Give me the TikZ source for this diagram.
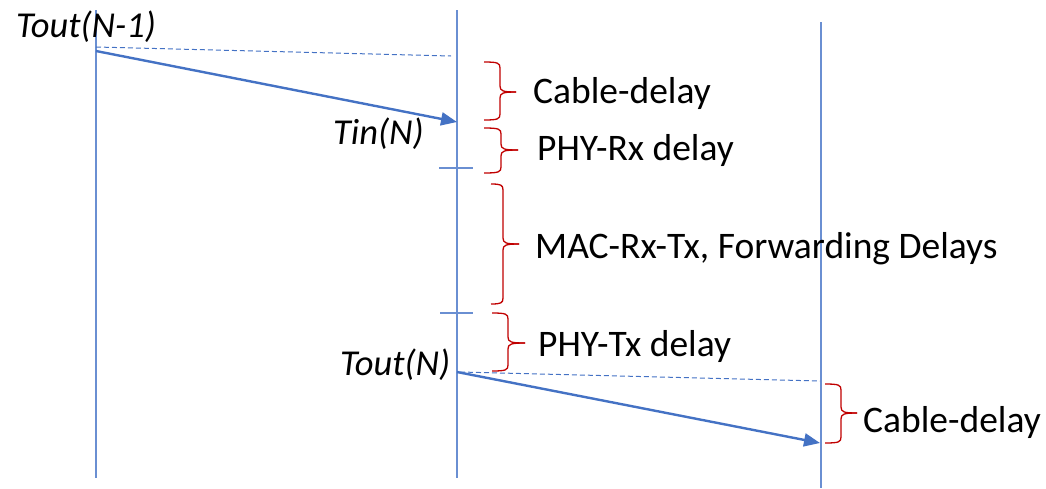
\documentclass[tikz,border=0pt]{standalone}
\usepackage{fontspec}
\setmainfont{Carlito}
\usetikzlibrary{arrows.meta}
\definecolor{lifeblue}{HTML}{6A8FD2}
\definecolor{arrblue}{HTML}{4472C4}
\definecolor{bracered}{HTML}{C00000}
\tikzset{
  life/.style={draw=lifeblue, line width=1.4pt},
  tick/.style={draw=lifeblue, line width=1.2pt},
  msg/.style={draw=arrblue, line width=2.4pt, -{Triangle[length=16pt,width=13pt]}},
  ref/.style={draw=arrblue, line width=1pt, dash pattern=on 5pt off 3pt},
  lbl/.style={font=\fontsize{37.5}{42}\selectfont, anchor=base west, inner sep=0pt},
  ilbl/.style={font=\fontsize{36.5}{42}\selectfont\itshape, anchor=base west, inner sep=0pt},
  brc/.style={draw=bracered, line width=1.3pt},
}
% brace: #1 end x, #2 spine x, #3 tip x, #4 top y, #5 mid y, #6 bottom y
\newcommand{\mybrace}[6]{%
  \draw[brc] (#1,#4) .. controls (#2-2,#4) and (#2,#4+1) .. (#2,#4+6)
    -- (#2,#5-6) .. controls (#2,#5-1) and (#2+3,#5) .. (#3,#5);
  \draw[brc] (#3,#5) .. controls (#2+3,#5) and (#2,#5+1) .. (#2,#5+6)
    -- (#2,#6-6) .. controls (#2,#6-1) and (#2-2,#6) .. (#1,#6);
}
\begin{document}
\begin{tikzpicture}[x=1pt,y=-1pt]
\useasboundingbox (0,0) rectangle (1046,488);
% lifelines
\coordinate (Atop) at (96,10);
\coordinate (Abot) at (96,478);
\coordinate (Btop) at (457,10);
\coordinate (Bbot) at (457,478);
\coordinate (Ctop) at (821,22);
\coordinate (Cbot) at (821,488);
\draw[life] (Atop) -- (Abot);
\draw[life] (Btop) -- (Bbot);
\draw[life] (Ctop) -- (Cbot);
% ticks
\coordinate (t1a) at (439,168); \coordinate (t1b) at (473,168);
\coordinate (t2a) at (440,313); \coordinate (t2b) at (473,313);
\draw[tick] (t1a) -- (t1b);
\draw[tick] (t2a) -- (t2b);
% messages
\coordinate (s1) at (96,51);
\coordinate (r1) at (457,122);
\coordinate (d1a) at (96,47);
\coordinate (d1b) at (451,56);
\draw[ref] (d1a) -- (d1b);
\draw[msg] (s1) -- (r1);
\coordinate (s2) at (457,372);
\coordinate (r2) at (820,443);
\coordinate (d2a) at (460,372);
\coordinate (d2b) at (820,381);
\draw[ref] (d2a) -- (d2b);
\draw[msg] (s2) -- (r2);
% braces
\mybrace{484}{500}{516}{62}{92}{120}
\mybrace{484}{501}{518}{128}{150}{173}
\mybrace{491}{503}{519}{184}{244}{304}
\mybrace{492}{508}{525}{313}{343}{371}
\mybrace{825}{841}{857}{384}{413}{443}
% labels
\node[ilbl] (toutn1) at (16,37) {Tout(N-1)};
\node[ilbl] (tinn) at (333,144) {Tin(N)};
\node[ilbl] (toutn) at (340,375) {Tout(N)};
\node[lbl] (cd1) at (533,103) {Cable-delay};
\node[lbl] (phyrx) at (537,160) {PHY-Rx delay};
\node[lbl] (mac) at (535,258) {MAC-Rx-Tx, Forwarding Delays};
\node[lbl] (phytx) at (538,356) {PHY-Tx delay};
\node[lbl] (cd2) at (863,432) {Cable-delay};
\end{tikzpicture}
\end{document}
